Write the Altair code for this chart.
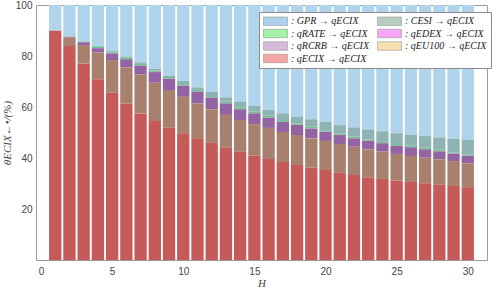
import altair as alt
import pandas as pd

H = list(range(1, 31))

ECIX = [89.9, 83.9, 77.0, 70.9, 65.6, 61.3, 57.5, 54.5, 51.9, 49.7,
        47.7, 45.9, 44.0, 42.4, 41.0, 39.6, 38.4, 37.3, 36.2, 35.3,
        34.2, 33.3, 32.5, 31.8, 31.1, 30.6, 30.1, 29.5, 29.0, 28.5]
EU100 = [0.0, 3.3, 7.3, 10.5, 12.8, 14.3, 15.2, 15.0, 14.8, 14.3,
         13.7, 13.2, 12.9, 12.5, 12.3, 12.2, 11.8, 11.7, 11.5, 11.4,
         11.3, 11.1, 10.9, 10.7, 10.5, 10.2, 10.0, 10.0, 9.8, 9.4]
RCRB = [0.0, 0.3, 1.1, 1.6, 2.6, 3.1, 3.5, 4.2, 4.4, 4.3,
        4.6, 4.6, 4.5, 4.2, 4.2, 4.0, 4.0, 3.9, 3.8, 3.5,
        3.5, 3.3, 3.3, 3.3, 3.2, 3.4, 3.3, 3.1, 2.9, 2.9]
EDEX = [0.0, 0.0, 0.1, 0.1, 0.1, 0.1, 0.1, 0.1, 0.1, 0.1,
        0.1, 0.1, 0.1, 0.1, 0.1, 0.1, 0.1, 0.1, 0.1, 0.1,
        0.1, 0.1, 0.1, 0.1, 0.1, 0.1, 0.1, 0.1, 0.1, 0.1]
RATE = [0.0, 0.1, 0.1, 0.4, 0.4, 0.5, 0.6, 0.4, 0.6, 0.6,
        0.6, 0.5, 0.6, 0.5, 0.6, 0.7, 0.6, 0.6, 0.7, 0.6,
        0.4, 0.6, 0.5, 0.4, 0.6, 0.5, 0.5, 0.6, 0.4, 0.5]
CESI = [0.0, 0.1, 0.1, 0.3, 0.4, 0.5, 0.6, 0.8, 0.6, 1.2,
        1.0, 1.6, 1.7, 2.3, 2.2, 2.2, 2.6, 2.7, 2.9, 3.2,
        3.4, 3.6, 3.9, 4.2, 4.2, 4.4, 4.6, 4.8, 5.4, 5.7]
GPR = [10.1, 12.3, 14.3, 16.2, 18.1, 20.2, 22.5, 25.0, 27.6, 29.8,
       32.3, 34.1, 36.2, 38.0, 39.6, 41.2, 42.5, 43.7, 44.8, 45.9,
       47.1, 48.0, 48.8, 49.5, 50.3, 50.8, 51.4, 51.9, 52.4, 52.9]

# legend order (row-major, 2 columns)
keys = ["GPR", "CESI", "RATE", "EDEX", "RCRB", "EU100", "ECIX"]
names = [": GPR → qECIX", ": CESI → qECIX", ": qRATE → qECIX", ": qEDEX → qECIX",
         ": qRCRB → qECIX", ": qEU100 → qECIX", ": qECIX → qECIX"]
series_vals = [GPR, CESI, RATE, EDEX, RCRB, EU100, ECIX]
stack_rank = [7, 6, 5, 4, 3, 2, 1]
legend_colors = ["#aed0ec", "#b6cdbf", "#a4f2a6", "#f6a6f6", "#d6badc", "#f8dfb2", "#f4a6a6"]
bar_colors = ["#b0d4ec", "#8fb3b4", "#6cc48a", "#c76bc9", "#9264a4", "#a8806e", "#c55a58"]

rows = []
for k, nm, vals, rk in zip(keys, names, series_vals, stack_rank):
    for h, v in zip(H, vals):
        rows.append({"H": h, "value": v, "series": nm, "key": k, "rank": rk})
df = pd.DataFrame(rows)

x_enc = alt.X("H:Q", scale=alt.Scale(domain=[0, 31], nice=False, zero=False),
              axis=alt.Axis(values=[0, 5, 10, 15, 20, 25, 30], title="H", ticks=False,
                            labelPadding=6, titlePadding=1, domain=False, grid=False))
y_enc = alt.Y("value:Q", stack="zero", scale=alt.Scale(domain=[0, 100], nice=False),
              axis=alt.Axis(values=[20, 40, 60, 80, 100], title="θECIX←•/(%)", ticks=False,
                            labelPadding=4, titlePadding=3, domain=False, grid=False))

bars = alt.Chart(df).mark_bar(size=12.3).encode(
    x=x_enc,
    y=y_enc,
    fill=alt.Fill("key:N", scale=alt.Scale(domain=keys, range=bar_colors), legend=None),
    order=alt.Order("rank:Q"),
)

legend_layer = alt.Chart(df).mark_bar(size=12.3, opacity=0).encode(
    x=alt.X("H:Q"),
    y=alt.Y("value:Q", stack="zero"),
    color=alt.Color("series:N", scale=alt.Scale(domain=names, range=legend_colors),
                    legend=alt.Legend(title=None, orient="none", legendX=223, legendY=7,
                                      direction="horizontal", columns=2,
                                      symbolType="M-1,-0.95L4.33,-0.95L4.33,0.95L-1,0.95Z",
                                      symbolSize=81, symbolOpacity=1, symbolStrokeWidth=0.6,
                                      symbolStrokeColor="#999999",
                                      fillColor="white", strokeColor="#8c8c8c", padding=4,
                                      labelFont="Liberation Serif", labelFontStyle="italic",
                                      labelFontSize=10, labelColor="#222", rowPadding=0.5,
                                      columnPadding=6, labelOffset=18, labelLimit=200)),
    order=alt.Order("rank:Q"),
)

chart = alt.layer(bars, legend_layer).properties(
    width=451, height=255,
    autosize=alt.AutoSizeParams(type="none"),
    padding={"left": 36, "top": 5, "right": 11, "bottom": 28},
).configure_view(
    stroke="#9a9a9a", strokeWidth=1
).configure_axis(
    labelFont="Liberation Sans", labelFontSize=10, labelColor="#444",
    titleFont="Liberation Serif", titleFontStyle="italic", titleFontSize=11,
    titleColor="#444", titleFontWeight="normal"
)

chart.save("out.html", embed_options={"renderer": "svg", "actions": False})
